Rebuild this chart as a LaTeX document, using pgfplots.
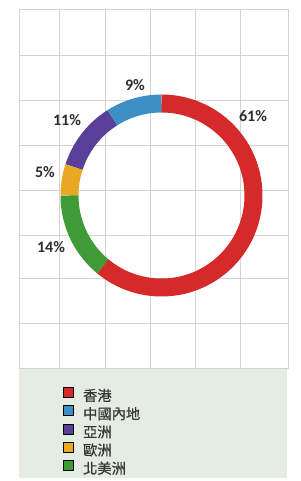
\documentclass[border=0pt]{standalone}
\usepackage{fontspec}
\setmainfont{Carlito}
\newfontfamily\cjk[FakeBold=0.6]{Noto Sans CJK TC}
\usepackage{pgfplots}
\pgfplotsset{compat=1.18}
\definecolor{cHK}{RGB}{212,42,42}
\definecolor{cCN}{RGB}{61,143,198}
\definecolor{cAS}{RGB}{90,63,152}
\definecolor{cEU}{RGB}{232,168,35}
\definecolor{cNA}{RGB}{63,155,53}
\definecolor{gridc}{RGB}{212,212,212}
\definecolor{legbg}{RGB}{229,237,226}
\definecolor{txt}{RGB}{45,45,45}
\definecolor{legtxt}{RGB}{55,55,55}
% shares in percent (counter-clockwise from 12 o'clock)
\def\vCN{9}
\def\vAS{11}
\def\vEU{5}
\def\vNA{14}
\def\vHK{61}
\def\cx{161.5}
\def\cy{285.5}
\def\rr{92}
\begin{document}
\begin{tikzpicture}
\useasboundingbox (0,0) rectangle (300pt,481pt);
\fill[legbg] (19pt,3pt) rectangle (287pt,113pt);
\begin{axis}[
  x=1pt, y=1pt, anchor=south west, at={(19pt,113pt)},
  xmin=19, xmax=288, ymin=113, ymax=472,
  xtick={59,105,150,195,240}, ytick={158,203,246,291,336,381,426},
  xticklabels={}, yticklabels={}, major tick length=0pt,
  grid=major, grid style={gridc, line width=0.8pt},
  axis line style={gridc, line width=0.8pt},
  clip=false,
  legend cell align=left,
  legend style={at={(axis cs:63,94)}, anchor=north west, draw=none, fill=none,
    inner sep=0pt, row sep=1.5pt, text=legtxt,
    font=\cjk\fontsize{14.3}{16}\selectfont,
    nodes={inner sep=0pt, text height=10pt, text depth=3pt},
    /tikz/every odd column/.append style={column sep=9.5pt}},
  legend image code/.code={\fill[#1] (0pt,0pt) rectangle (10pt,10pt);},
]
\addplot[forget plot, draw=cCN, line width=18pt, domain={90}:{90+3.6*\vCN}, samples=40, smooth]
  ({\cx+\rr*cos(x)}, {\cy+\rr*sin(x)});
\addplot[forget plot, draw=cAS, line width=18pt, domain={90+3.6*\vCN}:{90+3.6*(\vCN+\vAS)}, samples=40, smooth]
  ({\cx+\rr*cos(x)}, {\cy+\rr*sin(x)});
\addplot[forget plot, draw=cEU, line width=18pt, domain={90+3.6*(\vCN+\vAS)}:{90+3.6*(\vCN+\vAS+\vEU)}, samples=30, smooth]
  ({\cx+\rr*cos(x)}, {\cy+\rr*sin(x)});
\addplot[forget plot, draw=cNA, line width=18pt, domain={90+3.6*(\vCN+\vAS+\vEU)}:{90+3.6*(\vCN+\vAS+\vEU+\vNA)}, samples=40, smooth]
  ({\cx+\rr*cos(x)}, {\cy+\rr*sin(x)});
\addplot[forget plot, draw=cHK, line width=18pt, domain={90+3.6*(\vCN+\vAS+\vEU+\vNA)}:{450}, samples=120, smooth]
  ({\cx+\rr*cos(x)}, {\cy+\rr*sin(x)});
\addlegendimage{fill=cHK}\addlegendentry{香港}
\addlegendimage{fill=cCN}\addlegendentry{中國內地}
\addlegendimage{fill=cAS}\addlegendentry{亞洲}
\addlegendimage{fill=cEU}\addlegendentry{歐洲}
\addlegendimage{fill=cNA}\addlegendentry{北美洲}
\begin{scope}[every node/.style={font=\bfseries\fontsize{16}{18}\selectfont, text=txt, inner sep=0pt}]
\node at (axis cs:253,365) {61\%};
\node at (axis cs:135,396) {9\%};
\node at (axis cs:67,361) {11\%};
\node at (axis cs:45,309) {5\%};
\node at (axis cs:51,234) {14\%};
\end{scope}
\end{axis}
\end{tikzpicture}
\end{document}
